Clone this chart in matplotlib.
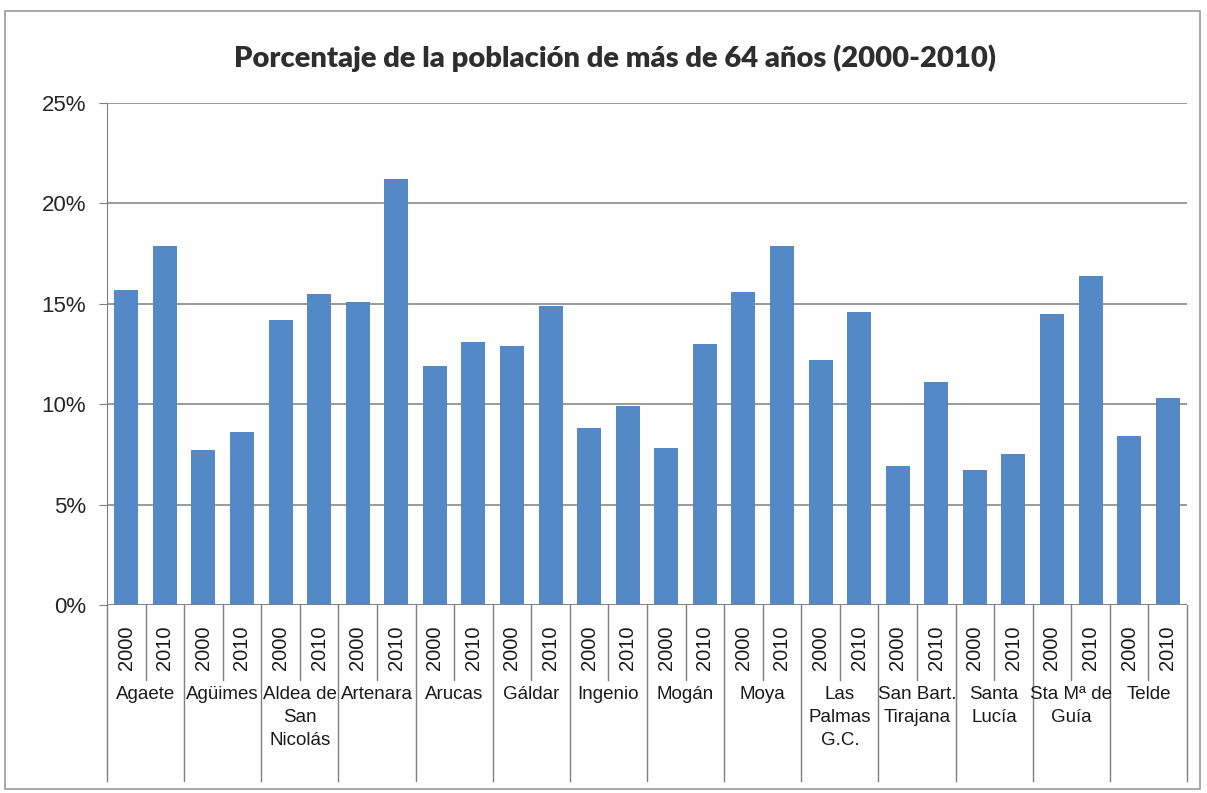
import matplotlib.pyplot as plt
import matplotlib.transforms as mtransforms
from matplotlib.patches import Rectangle
import numpy as np

# municipalities (category label lines) and the two census years
municipios = ['Agaete', 'Agüimes', 'Aldea de\nSan\nNicolás', 'Artenara', 'Arucas',
              'Gáldar', 'Ingenio', 'Mogán', 'Moya', 'Las\nPalmas\nG.C.',
              'San Bart.\nTirajana', 'Santa\nLucía', 'Sta Mª de\nGuía', 'Telde']
years = ['2000', '2010']
pct_2000 = [15.7, 7.7, 14.2, 15.1, 11.9, 12.9, 8.8, 7.8, 15.6, 12.2, 6.9, 6.7, 14.5, 8.4]
pct_2010 = [17.9, 8.6, 15.5, 21.2, 13.1, 14.9, 9.9, 13.0, 17.9, 14.6, 11.1, 7.5, 16.4, 10.3]
yticks = [0, 5, 10, 15, 20, 25]

bar_color = '#5289C6'
grid_color = '#7f7f7f'
label_font = ['Liberation Sans', 'DejaVu Sans']

fig = plt.figure(figsize=(12.07, 7.93), dpi=100)
ax = fig.add_axes([107 / 1207, 1 - 605 / 793, 1080 / 1207, 502 / 793])

# interleave the two years: one slot per bar
values = []
for a, b in zip(pct_2000, pct_2010):
    values += [a, b]
x = np.arange(len(values))
ax.bar(x, values, width=0.62, color=bar_color, zorder=3)

ax.set_xlim(-0.5, len(values) - 0.5)
ax.set_ylim(0, 25)
ax.set_yticks(yticks)
ax.set_yticklabels([f'{t}%' for t in yticks], fontsize=16, color='#262626',
                   family=label_font)
ax.tick_params(axis='y', length=6, color=grid_color, pad=9)
ax.set_xticks([])
ax.grid(axis='y', color=grid_color, linewidth=1.1, zorder=0)
for s in ['top', 'right', 'bottom']:
    ax.spines[s].set_visible(False)
ax.spines['left'].set_color(grid_color)
ax.axhline(0, color=grid_color, linewidth=1.1, zorder=4)

# multi-level category axis below the plot
trans = mtransforms.blended_transform_factory(ax.transData, ax.transAxes)
short_y = -0.15
long_y = -0.35
for i in range(len(values) + 1):
    bottom = long_y if i % 2 == 0 else short_y
    ax.plot([i - 0.5, i - 0.5], [0, bottom], transform=trans, color=grid_color,
            linewidth=1.0, clip_on=False)
for i, v in enumerate(values):
    ax.text(i, -0.085, years[i % 2], transform=trans, rotation=90, ha='center',
            va='center', fontsize=14.5, color='#1a1a1a', family=label_font)
for j, name in enumerate(municipios):
    ax.text(2 * j + 0.5, -0.162, name, transform=trans, ha='center', va='top',
            fontsize=13.5, color='#1a1a1a', family=label_font, linespacing=1.45)

fig.text(615 / 1207, 1 - 58 / 793, 'Porcentaje de la población de más de 64 años (2000-2010)',
         ha='center', va='center', fontsize=21, fontweight='heavy', color='#2e2e2e',
         family=['Lato', 'DejaVu Sans'])

# chart frame
fig.patches.append(Rectangle((5 / 1207, 4 / 793), 1195 / 1207, 778 / 793,
                             transform=fig.transFigure, fill=False,
                             edgecolor='#9a9a9a', linewidth=1.2))

fig.savefig('out.png', dpi=100, facecolor='white')
